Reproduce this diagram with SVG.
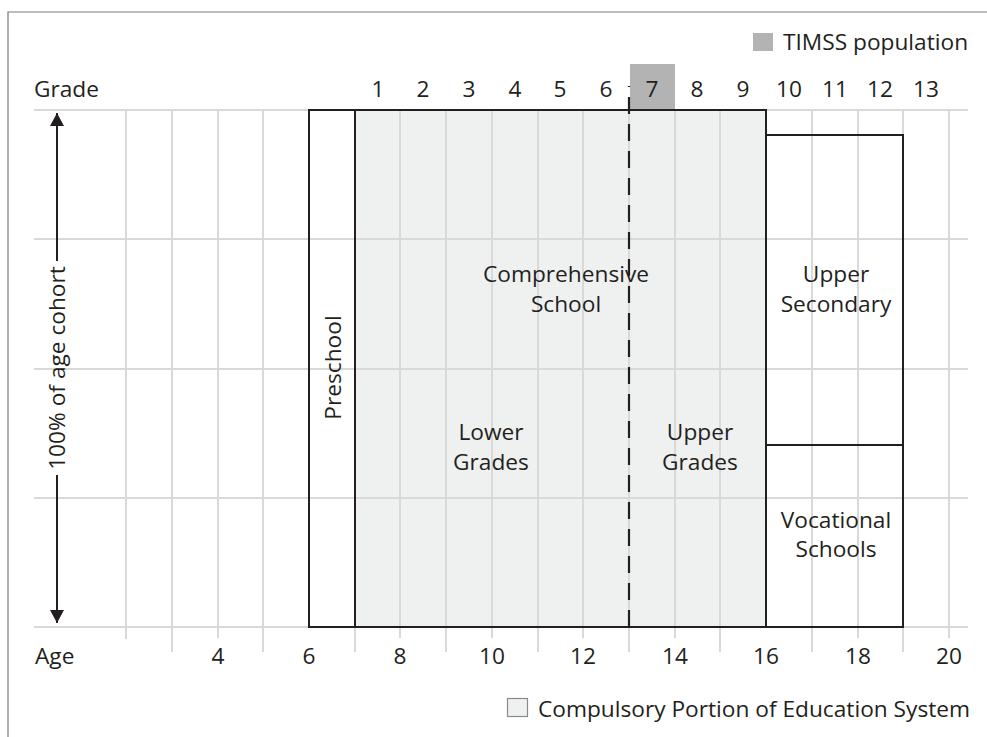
<svg xmlns="http://www.w3.org/2000/svg" width="987" height="737" viewBox="0 0 987 737">
<style>
text{font-family:"Open Sans","Noto Sans","Liberation Sans",sans-serif;font-size:22.7px;fill:#231f20}
.mid{text-anchor:middle}
.grid line{stroke:#d9d9d9;stroke-width:2}
.box{stroke:#231f20;stroke-width:2}
.frame{stroke:#7a7a7a;stroke-width:1.2;fill:none}
</style>
<defs>
<marker id="ah" markerUnits="userSpaceOnUse" markerWidth="14" markerHeight="14" refX="12" refY="6.5" orient="auto-start-reverse" viewBox="0 0 13 13">
<path d="M0,0 L12,6.5 L0,13 z" fill="#231f20"/>
</marker>
</defs>
<rect width="987" height="737" fill="#fff"/>
<path class="frame" d="M8,737 V12 H987"/>
<g id="fills">
<rect x="355" y="110" width="411" height="517" fill="#eff0f0"/>
<rect x="630" y="64" width="45" height="46" fill="#b3b3b3"/>
</g>
<g class="grid" id="grid">
<line x1="34" y1="110" x2="968" y2="110"/>
<line x1="34" y1="239" x2="968" y2="239"/>
<line x1="34" y1="369" x2="968" y2="369"/>
<line x1="34" y1="498" x2="968" y2="498"/>
<line x1="34" y1="627" x2="968" y2="627"/>
<line x1="126" y1="110" x2="126" y2="639"/>
<line x1="172" y1="110" x2="172" y2="652"/>
<line x1="218" y1="110" x2="218" y2="638"/>
<line x1="263" y1="110" x2="263" y2="652"/>
<line x1="309" y1="110" x2="309" y2="627"/>
<line x1="355" y1="110" x2="355" y2="652"/>
<line x1="400" y1="110" x2="400" y2="638"/>
<line x1="446" y1="110" x2="446" y2="652"/>
<line x1="492" y1="110" x2="492" y2="638"/>
<line x1="538" y1="110" x2="538" y2="652"/>
<line x1="583" y1="110" x2="583" y2="638"/>
<line x1="629" y1="110" x2="629" y2="652"/>
<line x1="675" y1="110" x2="675" y2="638"/>
<line x1="720" y1="110" x2="720" y2="652"/>
<line x1="766" y1="110" x2="766" y2="627"/>
<line x1="812" y1="110" x2="812" y2="652"/>
<line x1="858" y1="110" x2="858" y2="638"/>
<line x1="903" y1="110" x2="903" y2="652"/>
<line x1="949" y1="110" x2="949" y2="638"/>
</g>
<g id="preschool">
<rect class="box" x="309" y="110" width="46" height="517" fill="none"/>
<text transform="translate(341,367.5) rotate(-90)" class="mid">Preschool</text>
</g>
<g id="comprehensive">
<rect class="box" x="355" y="110" width="411" height="517" fill="none"/>
<text x="566" y="282" class="mid">Comprehensive</text>
<text x="566" y="312" class="mid">School</text>
</g>
<g id="lower-grades">
<text x="491" y="440" class="mid">Lower</text>
<text x="491" y="470" class="mid">Grades</text>
</g>
<g id="upper-grades">
<text x="700" y="440" class="mid">Upper</text>
<text x="700" y="470" class="mid">Grades</text>
</g>
<g id="upper-secondary">
<rect class="box" x="766" y="135" width="137" height="310" fill="none"/>
<text x="836" y="282" class="mid">Upper</text>
<text x="836" y="312" class="mid">Secondary</text>
</g>
<g id="vocational">
<rect class="box" x="766" y="445" width="137" height="182" fill="none"/>
<text x="836" y="528" class="mid">Vocational</text>
<text x="836" y="557" class="mid">Schools</text>
</g>
<g id="connectors">
<line x1="629" y1="627" x2="629" y2="86" stroke="#231f20" stroke-width="2.2" stroke-dasharray="17 10"/>
<line x1="57" y1="261" x2="57" y2="113" stroke="#231f20" stroke-width="2" marker-end="url(#ah)"/>
<line x1="57" y1="475" x2="57" y2="623" stroke="#231f20" stroke-width="2" marker-end="url(#ah)"/>
</g>
<g id="axis-label">
<text transform="translate(65,368) rotate(-90)" class="mid">100% of age cohort</text>
</g>
<g id="grade-axis">
<text x="34" y="97">Grade</text>
<text x="378" y="97" class="mid">1</text>
<text x="423" y="97" class="mid">2</text>
<text x="469" y="97" class="mid">3</text>
<text x="515" y="97" class="mid">4</text>
<text x="560" y="97" class="mid">5</text>
<text x="606" y="97" class="mid">6</text>
<text x="652" y="97" class="mid">7</text>
<text x="697" y="97" class="mid">8</text>
<text x="743" y="97" class="mid">9</text>
<text x="789" y="97" class="mid">10</text>
<text x="835" y="97" class="mid">11</text>
<text x="880" y="97" class="mid">12</text>
<text x="926" y="97" class="mid">13</text>
</g>
<g id="age-axis">
<text x="35" y="664">Age</text>
<text x="218" y="664" class="mid">4</text>
<text x="309" y="664" class="mid">6</text>
<text x="400" y="664" class="mid">8</text>
<text x="492" y="664" class="mid">10</text>
<text x="583" y="664" class="mid">12</text>
<text x="675" y="664" class="mid">14</text>
<text x="766" y="664" class="mid">16</text>
<text x="858" y="664" class="mid">18</text>
<text x="949" y="664" class="mid">20</text>
</g>
<g id="legend-timss">
<rect x="753" y="33" width="20" height="18" fill="#b3b3b3"/>
<text x="783" y="50">TIMSS population</text>
</g>
<g id="legend-compulsory">
<rect x="507.5" y="698.5" width="20" height="18" fill="#eff0f0" stroke="#8a8a8a" stroke-width="1.2"/>
<text x="538" y="717">Compulsory Portion of Education System</text>
</g>
</svg>
